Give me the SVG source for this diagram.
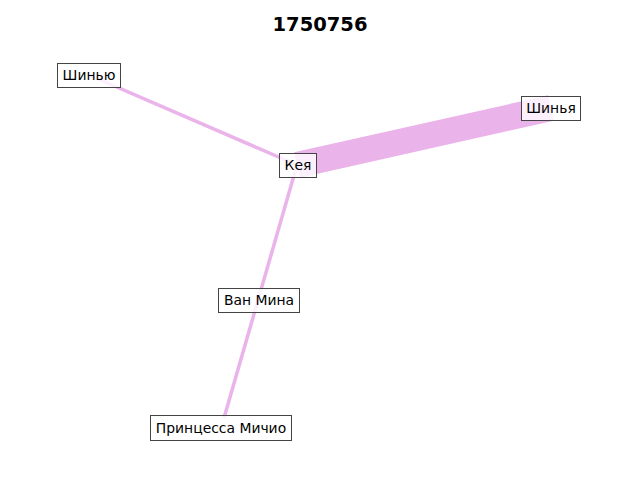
<svg xmlns="http://www.w3.org/2000/svg" width="640" height="480" viewBox="0 0 640 480">
<style>
.e{stroke:#eab3ea;fill:none;stroke-linecap:butt}
.b{fill:#ffffff;fill-opacity:0.8;stroke:#444444;stroke-width:1}
.t{font-family:"DejaVu Sans",sans-serif;font-size:13.9px;fill:#000;text-anchor:middle;dominant-baseline:central}
</style>
<rect width="640" height="480" fill="#ffffff"/>
<text x="320" y="31" style="font-family:'DejaVu Sans',sans-serif;font-size:19.5px;font-weight:bold;text-anchor:middle">1750756</text>
<g id="edges">
<line class="e" x1="89" y1="75" x2="297" y2="165" stroke-width="3.5"/>
<line class="e" x1="297" y1="165" x2="551" y2="108" stroke-width="26"/>
<line class="e" x1="297" y1="165" x2="224" y2="418" stroke-width="3.5"/>
</g>
<g id="n-shinyu"><rect class="b" x="57.5" y="63.5" width="63" height="24"/><text class="t" x="89" y="75">Шинью</text></g>
<g id="n-keya"><rect class="b" x="279.5" y="153.5" width="37" height="24"/><text class="t" x="298" y="165">Кея</text></g>
<g id="n-shinya"><rect class="b" x="521.5" y="96.5" width="59" height="24"/><text class="t" x="551" y="108">Шинья</text></g>
<g id="n-vanmina"><rect class="b" x="218.5" y="288.5" width="81" height="24"/><text class="t" x="259" y="300">Ван Мина</text></g>
<g id="n-princess"><rect class="b" x="150.5" y="415.5" width="141" height="25"/><text class="t" x="221" y="428">Принцесса Мичио</text></g>
</svg>
